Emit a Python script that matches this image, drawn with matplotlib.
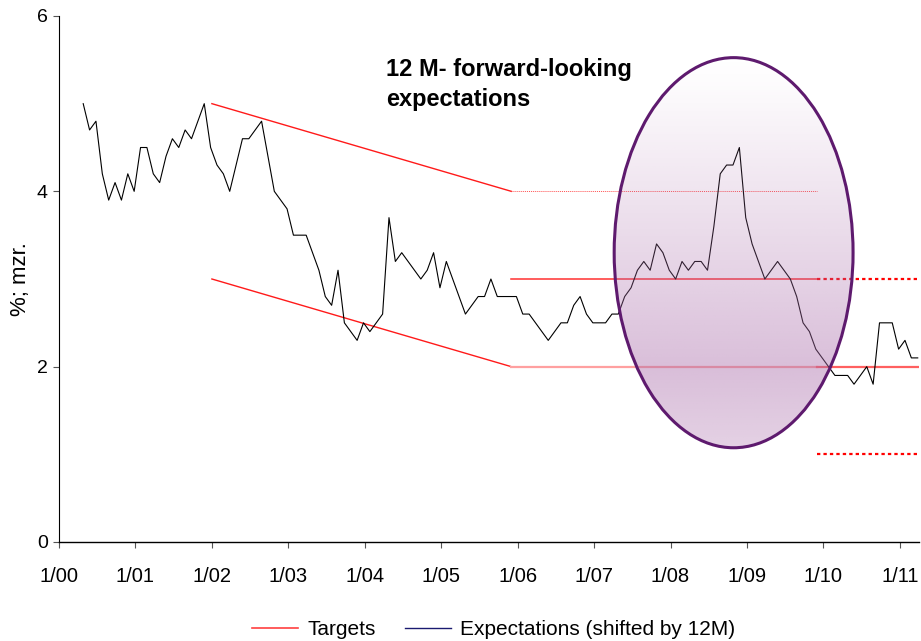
import numpy as np
import matplotlib
matplotlib.use("Agg")
import matplotlib.pyplot as plt
from matplotlib.patches import Ellipse
from matplotlib.lines import Line2D

plt.rcParams['font.family'] = ['Liberation Sans', 'DejaVu Sans']

# expectations, monthly, first obs. ~end of April 2000 (x in months since 1/00)
exp_start = 3.8
expectations = [5.0, 4.7, 4.8, 4.2, 3.9, 4.1, 3.9, 4.2, 4.0, 4.5, 4.5, 4.2, 4.1, 4.4, 4.6, 4.5, 4.7, 4.6,
                4.8, 5.0, 4.5, 4.3, 4.2, 4.0, 4.3, 4.6, 4.6, 4.7, 4.8, 4.4, 4.0, 3.9, 3.8, 3.5, 3.5, 3.5,
                3.3, 3.1, 2.8, 2.7, 3.1, 2.5, 2.4, 2.3, 2.5, 2.4, 2.5, 2.6, 3.7, 3.2, 3.3, 3.2, 3.1, 3.0,
                3.1, 3.3, 2.9, 3.2, 3.0, 2.8, 2.6, 2.7, 2.8, 2.8, 3.0, 2.8, 2.8, 2.8, 2.8, 2.6, 2.6, 2.5,
                2.4, 2.3, 2.4, 2.5, 2.5, 2.7, 2.8, 2.6, 2.5, 2.5, 2.5, 2.6, 2.6, 2.8, 2.9, 3.1, 3.2, 3.1,
                3.4, 3.3, 3.1, 3.0, 3.2, 3.1, 3.2, 3.2, 3.1, 3.6, 4.2, 4.3, 4.3, 4.5, 3.7, 3.4, 3.2, 3.0,
                3.1, 3.2, 3.1, 3.0, 2.8, 2.5, 2.4, 2.2, 2.1, 2.0, 1.9, 1.9, 1.9, 1.8, 1.9, 2.0, 1.8, 2.5,
                2.5, 2.5, 2.2, 2.3, 2.1, 2.1]

# targets (months since 1/00)
band_x = [24, 71]          # 1/02 -> 12/05 declining band
band_upper = [5.0, 4.0]
band_lower = [3.0, 2.0]
flat_x = [71, 119]         # 12/05 -> 12/09
flat_upper = 4.0
flat_mid = 3.0
flat_lower = 2.0
new_x = [119, 135]         # from 12/09: 2% +/- 1
new_target = 2.0
new_upper = 3.0
new_lower = 1.0

year_labels = ['1/00', '1/01', '1/02', '1/03', '1/04', '1/05', '1/06', '1/07', '1/08', '1/09', '1/10', '1/11']

# highlighted region
ell_center = (105.9, 3.3)
ell_w, ell_h = 37.5, 4.45

fig = plt.figure(figsize=(9.21, 6.41), dpi=100)
ax = fig.add_axes([59/921, 1-542/641, 860/921, 526/641])

x = exp_start + np.arange(len(expectations))
ax.plot(x, expectations, color='black', lw=0.8, zorder=3)

ax.plot(band_x, band_upper, color='#ff1a1a', lw=1.0, zorder=2)
ax.plot(band_x, band_lower, color='#ff1a1a', lw=1.0, zorder=2)
ax.plot(flat_x, [flat_upper]*2, color='#ff5050', lw=0.7, ls=(0, (1, 1)), zorder=2)
ax.plot(flat_x, [flat_mid]*2, color='#ff3030', lw=1.1, zorder=2)
ax.plot(flat_x, [flat_lower]*2, color='#ffa0a0', lw=1.6, zorder=2)
ax.plot([flat_x[1], new_x[1]], [new_target]*2, color='#ff6060', lw=1.6, zorder=2)
ax.plot(new_x, [new_upper]*2, color='red', lw=1.6, ls=(0, (1.5, 1.4)), zorder=2)
ax.plot(new_x, [new_lower]*2, color='red', lw=1.6, ls=(0, (1.5, 1.4)), zorder=2)

# ellipse with vertical gradient (white -> purple), semi-transparent over the lines
ell = Ellipse(ell_center, ell_w, ell_h, facecolor='none', edgecolor='#5e1a6e', lw=2.2, zorder=5)
ax.add_patch(ell)
t = np.linspace(0, 1, 256)
alpha = np.interp(t, [0, 0.08, 0.8, 1.0], [0.0, 0.03, 0.45, 0.32])
grad = np.zeros((256, 2, 4))
grad[:, :, 0] = 171/255
grad[:, :, 1] = 111/255
grad[:, :, 2] = 171/255
grad[:, :, 3] = alpha[:, None]
cx, cy = ell_center
im = ax.imshow(grad, extent=[cx-ell_w/2, cx+ell_w/2, cy-ell_h/2, cy+ell_h/2],
               origin='upper', aspect='auto', zorder=4, interpolation='bilinear')
im.set_clip_path(ell)

ax.set_xlim(0, 135)
ax.set_ylim(0, 6)
ax.set_xticks(np.arange(0, 133, 12))
ax.set_xticklabels(year_labels)
ax.set_yticks([0, 2, 4, 6])
ax.tick_params(axis='both', length=4, width=0.8, color='#555555')
ax.tick_params(axis='x', labelsize=14.5, pad=14)
ax.tick_params(axis='y', labelsize=14, pad=4)
for s in ['top', 'right']:
    ax.spines[s].set_visible(False)
ax.spines['left'].set_linewidth(0.8)
ax.spines['bottom'].set_linewidth(1.0)
ax.set_ylabel('%; mzr.', fontsize=16, va='center')
ax.yaxis.set_label_coords(-0.045, 0.5)

fig.text(386/921, 1-58/641, '12 M- forward-looking\nexpectations', fontsize=17, fontweight='bold',
         ha='left', va='top', linespacing=1.4)

handles = [Line2D([], [], color='#ff4040', lw=1.2), Line2D([], [], color='#1a1a70', lw=1.0)]
fig.legend(handles, ['Targets', 'Expectations (shifted by 12M)'], loc='lower center',
           bbox_to_anchor=(0.536, -0.026), ncol=2, frameon=False, fontsize=15,
           handlelength=2.2, columnspacing=1.4, handletextpad=0.45)

fig.savefig('out.png', dpi=100)
